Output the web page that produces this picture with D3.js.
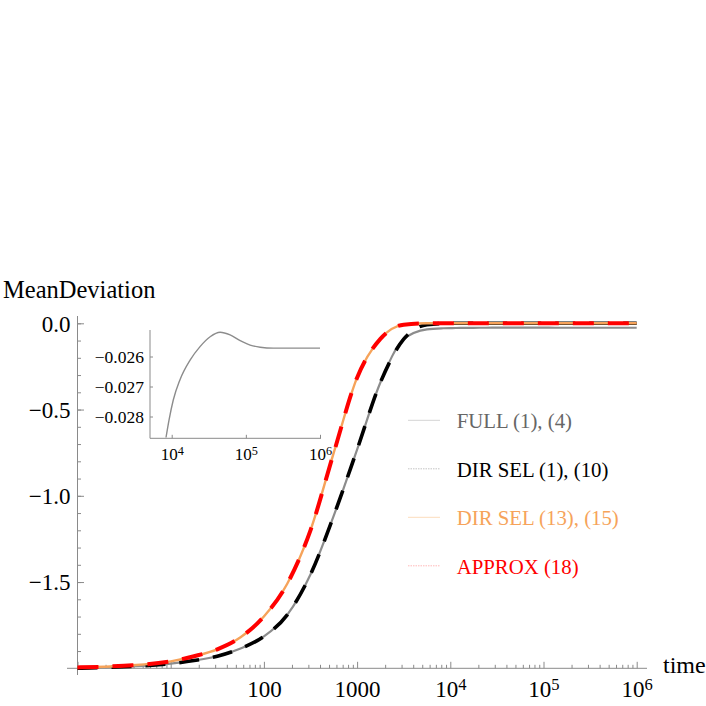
<!doctype html>
<head>
  <meta charset="utf-8">
  <title>MeanDeviation vs time</title>
  <script src="https://d3js.org/d3.v7.min.js"></script>
</head>
<style>
  body { margin: 0; background: #fff; }
  svg text { font-family: "Liberation Serif", "Times New Roman", serif; }
  .axis line { stroke: #8a8a8a; }
  .axis path { display: none; }
</style>
<body>
<div id="vis-canvas"></div>
<script>

// ---- data ----
// FULL (1), (4)
var fullTime  = [1, 3.16, 10, 17.8, 31.6, 56.2, 100, 178, 316, 562, 1000, 1778, 3162, 5623, 8380, 10500, 12900, 17700, 24100, 33000, 45000, 61400, 83800, 114300, 156000, 236000, 1000000];
var fullValue = [-2.0, -1.991, -1.973, -1.955, -1.930, -1.885, -1.815, -1.690, -1.456, -1.115, -0.732, -0.343, -0.092, -0.035, -0.0287, -0.02745, -0.02678, -0.02612, -0.02567, -0.02534, -0.02519, -0.02528, -0.02547, -0.02562, -0.02569, -0.02572, -0.02572];

// DIR SEL (1), (10)
var dirSelTime  = [1, 3.16, 10, 17.8, 31.6, 56.2, 100, 178, 316, 562, 1000, 1778, 3162, 4000, 5623, 10000, 1000000];
var dirSelValue = [-2.0, -1.991, -1.973, -1.955, -1.930, -1.885, -1.815, -1.690, -1.456, -1.115, -0.732, -0.343, -0.092, -0.040, -0.008, 0, 0];

// DIR SEL (13), (15)
var dirSel2Time  = [1, 3.16, 10, 17.8, 31.6, 56.2, 100, 178, 316, 562, 1000, 1778, 3162, 5623, 10000, 1000000];
var dirSel2Value = [-1.995, -1.985, -1.960, -1.930, -1.890, -1.820, -1.700, -1.510, -1.200, -0.750, -0.315, -0.090, -0.008, 0, 0, 0];

// APPROX (18)
var approxTime  = [1, 3.16, 10, 17.8, 31.6, 56.2, 100, 178, 316, 562, 1000, 1778, 3162, 5623, 10000, 1000000];
var approxValue = [-1.995, -1.985, -1.960, -1.930, -1.890, -1.820, -1.700, -1.510, -1.200, -0.750, -0.315, -0.090, -0.008, 0, 0, 0];

// inset: FULL (1), (4) at late times
var insetTime  = [8380, 9200, 10500, 12900, 17700, 24100, 33000, 45000, 61400, 83800, 114300, 156000, 236000, 1000000];
var insetValue = [-0.0287, -0.02812, -0.02745, -0.02678, -0.02612, -0.02567, -0.02534, -0.02519, -0.02528, -0.02547, -0.02562, -0.02569, -0.02572, -0.02572];

var yTicks = [0, -0.5, -1.0, -1.5];
var yTickLabels = ["0.0", "\u22120.5", "\u22121.0", "\u22121.5"];
var xTicks = [10, 100, 1000, 1e4, 1e5, 1e6];
var insetYTicks = [-0.026, -0.027, -0.028];
var insetXTicks = [1e4, 1e5, 1e6];

var legendNames = ["FULL (1), (4)", "DIR SEL (1), (10)", "DIR SEL (13), (15)", "APPROX (18)"];

// ---- drawing ----
var W = 706, H = 706;
var serif = "'Liberation Serif', 'Times New Roman', serif";
var svg = d3.select("#vis-canvas").append("svg")
    .attr("width", W)
    .attr("height", H)
    .attr("font-family", serif);
svg.append("rect").attr("width", W).attr("height", H).attr("fill", "#fff");

var x = d3.scaleLog().domain([1, 1e6]).range([77.5, 636.7]);
var y = d3.scaleLinear().domain([-2, 0]).range([668.3, 323.3]);

var axisColor = "#8a8a8a";
var superscripts = function(sel) {
  sel.each(function(d) {
    var e = Math.round(Math.log10(d));
    var t = d3.select(this);
    if (e >= 4) {
      t.text("10");
      t.append("tspan").attr("dy", "-0.42em").attr("font-size", "0.72em").text(e);
    } else {
      t.text(String(d));
    }
  });
};

// axis lines
svg.append("line").attr("x1", 67).attr("x2", 647).attr("y1", y(-2)).attr("y2", y(-2))
    .attr("stroke", axisColor);
svg.append("line").attr("x1", x(1)).attr("x2", x(1)).attr("y1", 316).attr("y2", 675)
    .attr("stroke", axisColor);

// y axis: minor + major
var yMinor = d3.range(0, 21).map(function(i) { return -i / 10; });
svg.append("g").attr("class", "axis")
    .attr("transform", "translate(" + x(1) + ",0)")
    .call(d3.axisLeft(y).tickValues(yMinor).tickSizeInner(-3.5).tickSizeOuter(0).tickFormat(""));
var gy = svg.append("g").attr("class", "axis")
    .attr("transform", "translate(" + x(1) + ",0)")
    .call(d3.axisLeft(y).tickValues(yTicks).tickSizeInner(-6.5).tickSizeOuter(0).tickPadding(7)
      .tickFormat(function(d, i) { return yTickLabels[i]; }));
gy.attr("font-family", null).attr("font-size", null);
gy.selectAll("text").attr("font-size", "23px").attr("fill", "#000").attr("dy", "0.34em");

// x axis: minor + major
var xMinor = [];
for (var k = 0; k < 6; k++) for (var m = 2; m <= 9; m++) xMinor.push(m * Math.pow(10, k));
svg.append("g").attr("class", "axis")
    .attr("transform", "translate(0," + y(-2) + ")")
    .call(d3.axisBottom(x).tickValues(xMinor).tickSizeInner(-3.5).tickSizeOuter(0).tickFormat(""));
var gx = svg.append("g").attr("class", "axis")
    .attr("transform", "translate(0," + y(-2) + ")")
    .call(d3.axisBottom(x).tickValues([1].concat(xTicks)).tickSizeInner(-6.5).tickSizeOuter(0).tickFormat(""));
gx.attr("font-family", null).attr("font-size", null);
gx.selectAll(".tick").filter(function(d) { return d > 1; }).select("text")
    .attr("y", 29).attr("dy", null).attr("font-size", "23px").attr("fill", "#000")
    .call(superscripts);

// axis labels
svg.append("text").attr("x", 3).attr("y", 298).attr("font-size", "24.5px").text("MeanDeviation");
svg.append("text").attr("x", 663).attr("y", 673).attr("font-size", "24px").text("time");

// curves
function series(t, v) { return t.map(function(d, i) { return [d, v[i]]; }); }
var line = d3.line().curve(d3.curveMonotoneX)
    .x(function(d) { return x(d[0]); })
    .y(function(d) { return y(d[1]); });

svg.append("path").datum(series(fullTime, fullValue)).attr("d", line)
    .attr("fill", "none").attr("stroke", "#8c8c8c").attr("stroke-width", 2.2);
svg.append("path").datum(series(dirSelTime, dirSelValue)).attr("d", line)
    .attr("fill", "none").attr("stroke", "#000").attr("stroke-width", 3.6)
    .attr("stroke-dasharray", "20,14");
svg.append("path").datum(series(dirSel2Time, dirSel2Value)).attr("d", line)
    .attr("fill", "none").attr("stroke", "#f6a35a").attr("stroke-width", 2.4);
svg.append("path").datum(series(approxTime, approxValue)).attr("d", line)
    .attr("fill", "none").attr("stroke", "#ff0000").attr("stroke-width", 4)
    .attr("stroke-dasharray", "21,14");

// inset
var ix = d3.scaleLog().domain([1e4, 1e6]).range([171.7, 320]);
var iy = d3.scaleLinear().domain([-0.026, -0.028]).range([356.5, 416.5]);
var insetLeft = 150, insetBottom = 438.3, insetTop = 330;

svg.append("line").attr("x1", insetLeft).attr("x2", 321).attr("y1", insetBottom).attr("y2", insetBottom)
    .attr("stroke", axisColor);
svg.append("line").attr("x1", insetLeft).attr("x2", insetLeft).attr("y1", insetTop).attr("y2", insetBottom)
    .attr("stroke", axisColor);

var giy = svg.append("g").attr("class", "axis")
    .attr("transform", "translate(" + insetLeft + ",0)")
    .call(d3.axisLeft(iy).tickValues(insetYTicks).tickSizeInner(-3).tickSizeOuter(0).tickPadding(6)
      .tickFormat(function(d) { return "\u2212" + d3.format(".3f")(-d); }));
giy.attr("font-family", null).attr("font-size", null);
giy.selectAll("text").attr("font-size", "17.5px").attr("fill", "#000").attr("dy", "0.34em");

var gix = svg.append("g").attr("class", "axis")
    .attr("transform", "translate(0," + insetBottom + ")")
    .call(d3.axisBottom(ix).tickValues(insetXTicks).tickSizeInner(-3.5).tickSizeOuter(0).tickFormat(""));
gix.attr("font-family", null).attr("font-size", null);
gix.selectAll("text").attr("y", 22).attr("dy", null).attr("font-size", "17px").attr("fill", "#000")
    .call(superscripts);

svg.append("clipPath").attr("id", "inset-clip").append("rect")
    .attr("x", insetLeft).attr("y", insetTop).attr("width", 175).attr("height", insetBottom - insetTop);
var iline = d3.line().curve(d3.curveMonotoneX)
    .x(function(d) { return ix(d[0]); })
    .y(function(d) { return iy(d[1]); });
svg.append("path").datum(series(insetTime, insetValue)).attr("d", iline)
    .attr("clip-path", "url(#inset-clip)")
    .attr("fill", "none").attr("stroke", "#8c8c8c").attr("stroke-width", 1.4);

// legend
var legendTextColors = ["#666666", "#000000", "#f6a35a", "#ff0000"];
var legendLineColors = ["#d4d4d4", "#c4c4c4", "#fcdcbc", "#ffb8b8"];
var legendDash = [null, "1.5,1", null, "1.5,1"];
var legend = svg.append("g").attr("transform", "translate(408,0)");
legendNames.forEach(function(name, i) {
  var by = 428.3 + i * 48.5;
  legend.append("line").attr("x1", 0).attr("x2", 32).attr("y1", by - 8).attr("y2", by - 8)
      .attr("stroke", legendLineColors[i]).attr("stroke-width", 1)
      .attr("stroke-dasharray", legendDash[i]);
  legend.append("text").attr("x", 48.7).attr("y", by).attr("font-size", "20.8px")
      .attr("fill", legendTextColors[i]).text(name);
});

</script>
</body>
